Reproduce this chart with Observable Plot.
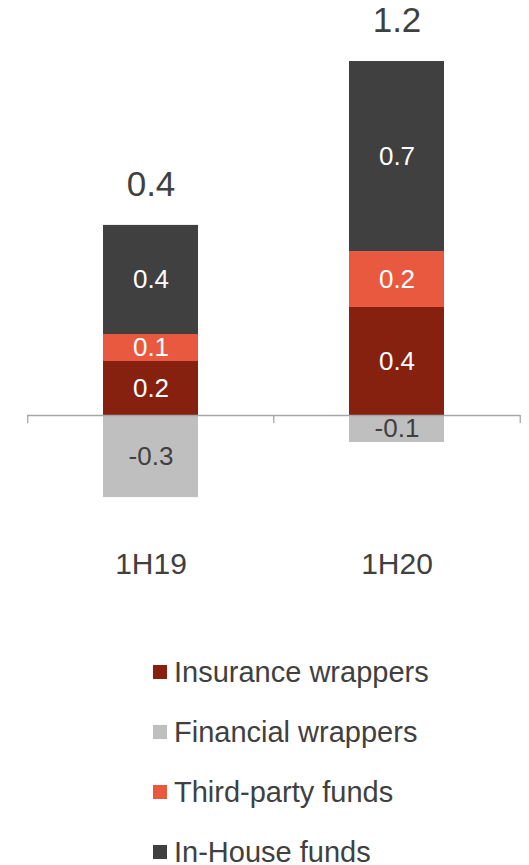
<!DOCTYPE html>
<html>
<head>
<meta charset="utf-8">
<script src="https://cdn.jsdelivr.net/npm/d3@7"></script>
<script src="https://cdn.jsdelivr.net/npm/@observablehq/plot@0.6"></script>
<style>
  html, body { margin: 0; padding: 0; background: #fff; }
  #chart { width: 529px; font-family: "Liberation Sans", Arial, sans-serif; }
  .legend { margin-top: 2px; padding-left: 153px; }
  .legend .row { height: 60px; display: flex; align-items: center; font-size: 29px; color: #404040; }
  .legend .sw { width: 14px; height: 14px; margin-right: 7px; flex: none; }
</style>
</head>
<body>
<div id="chart"></div>
<script>
const categories = ["1H19", "1H20"];
const series = ["Insurance wrappers", "Financial wrappers", "Third-party funds", "In-House funds"];
const insuranceWrappers = [0.2, 0.4];
const financialWrappers = [-0.304, -0.1];
const thirdPartyFunds = [0.1, 0.207];
const inHouseFunds = [0.404, 0.704];
const seriesColors = ["#86200F", "#BFBFBF", "#E8593F", "#404040"];
const stackOrder = ["Insurance wrappers", "Third-party funds", "In-House funds", "Financial wrappers"];

const valuesBySeries = [insuranceWrappers, financialWrappers, thirdPartyFunds, inHouseFunds];
const rows = [];
series.forEach((s, si) => categories.forEach((c, ci) => rows.push({category: c, series: s, value: valuesBySeries[si][ci]})));
const totals = categories.map((c, ci) => ({
  category: c,
  top: d3.sum(valuesBySeries, v => Math.max(0, v[ci])),
  net: d3.sum(valuesBySeries, v => v[ci])
}));

const width = 529, marginLeft = 27, marginRight = 9;
const padIn = 0.614, padOut = 0.307;
const step = (width - marginLeft - marginRight) / (categories.length - padIn + 2 * padOut);
const textColor = "#404040";
const axisColor = "#A6A6A6";
const font = "'Liberation Sans', Arial, sans-serif";

const chart = Plot.plot({
  width,
  height: 640,
  marginLeft,
  marginRight,
  marginTop: 0,
  marginBottom: 103.5,
  style: {fontFamily: font, background: "#fff"},
  x: {type: "band", domain: categories, paddingInner: padIn, paddingOuter: padOut, label: null},
  y: {domain: [-0.45, 1.537], axis: null},
  color: {domain: series, range: seriesColors},
  marks: [
    Plot.barY(rows, {x: "category", y: "value", z: "series", fill: "series", order: stackOrder}),
    Plot.ruleY([0], {stroke: axisColor, strokeWidth: 1.3}),
    Plot.ruleX(categories, {x: d => d, y1: 0, y2: 0, insetBottom: -8, dx: -step / 2, stroke: axisColor, strokeWidth: 1.3}),
    Plot.ruleX(categories.slice(-1), {x: d => d, y1: 0, y2: 0, insetBottom: -8, dx: step / 2, stroke: axisColor, strokeWidth: 1.3}),
    Plot.text(rows, Plot.stackY({
      x: "category", y: "value", z: "series", order: stackOrder,
      text: d => d.value.toFixed(1),
      fill: d => d.series === "Financial wrappers" ? textColor : "#fff",
      fontSize: 26, lineAnchor: "middle"
    })),
    Plot.text(totals, {x: "category", y: "top", text: d => d.net.toFixed(1), dy: -41, fontSize: 35, fill: textColor, lineAnchor: "middle"}),
    Plot.axisX({tickSize: 0, tickPadding: 16, fontSize: 30, fill: textColor, label: null})
  ]
});
document.getElementById("chart").appendChild(chart);

const legend = document.createElement("div");
legend.className = "legend";
series.forEach((s, i) => {
  const row = document.createElement("div");
  row.className = "row";
  const sw = document.createElement("span");
  sw.className = "sw";
  sw.style.background = seriesColors[i];
  const t = document.createElement("span");
  t.textContent = s;
  row.appendChild(sw);
  row.appendChild(t);
  legend.appendChild(row);
});
document.getElementById("chart").appendChild(legend);
</script>
</body>
</html>
